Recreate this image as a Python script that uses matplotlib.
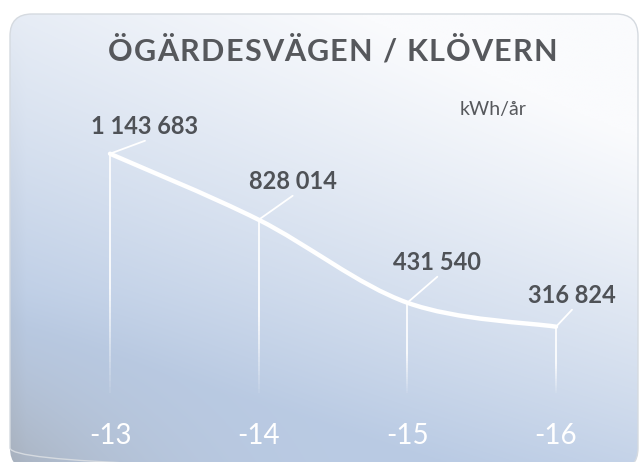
import numpy as np
import matplotlib
matplotlib.use("Agg")
import matplotlib.pyplot as plt
from matplotlib.patches import FancyBboxPatch
from matplotlib.path import Path
from matplotlib.patches import PathPatch
from matplotlib.collections import LineCollection

# ---- data ----
categories = ["-13", "-14", "-15", "-16"]
values = [1143683, 828014, 431540, 316824]
value_labels = ["1 143 683", "828 014", "431 540", "316 824"]
title = "ÖGÄRDESVÄGEN / KLÖVERN"
unit = "kWh/år"

# label leader offsets (pixels) - style only
leader_off = [(35, 13), (34, 24), (30, 26), (16, 17)]

W, H = 643, 462
fig = plt.figure(figsize=(W / 100, H / 100), dpi=100)
fig.patch.set_facecolor("white")

# ---- background panel ----
bg = fig.add_axes([0, 0, 1, 1])
bg.set_xlim(0, W)
bg.set_ylim(H, 0)
bg.axis("off")

ny, nx = 240, 320
yy, xx = np.mgrid[0:1:ny * 1j, 0:1:nx * 1j]
light = np.array([250, 251, 253]) / 255
blue = np.array([186, 203, 228]) / 255
gray = np.array([165, 173, 184]) / 255
t = yy[..., None]
s = xx[..., None]
f = np.clip(-0.25 + 0.85 * t + 0.25 * t ** 2 + 0.56 * (1 - s), 0, 1)
img = light * (1 - f) + blue * f
g = np.clip((1 - s) ** 5 * np.clip((t - 0.6) / 0.4, 0, 1) ** 1.5, 0, 1) * 0.85
img = img * (1 - g) + gray * g
edge = np.clip(1 - s / 0.025, 0, 1) * 0.3 * t
img = img * (1 - edge) + gray * edge
im = bg.imshow(img, extent=(10, 640, 470, 14), aspect="auto", zorder=0,
               interpolation="bilinear")
panel = FancyBboxPatch((10, 14), 628, 456,
                       boxstyle="round,pad=0,rounding_size=22",
                       facecolor="none", edgecolor="#d5dae0", lw=1.0, zorder=1)
bg.add_patch(panel)
im.set_clip_path(panel)

# ---- main axes ----
ax = fig.add_axes([0, 0, 1, 1])
ax.patch.set_alpha(0)
x = np.arange(len(values))
px_per_i = 148.67
x0 = 110
ax.set_xlim(-x0 / px_per_i, (W - x0) / px_per_i)
k = 2.092e-4
base_px = 393
ax.set_ylim((base_px - H) / k, base_px / k)
ax.axis("off")

# smooth curve (Catmull-Rom style bezier through the data points)
pts = np.column_stack([x, values]).astype(float)
verts = [tuple(pts[0])]
codes = [Path.MOVETO]
n = len(pts)
for i in range(n - 1):
    p0 = pts[max(i - 1, 0)]
    p1 = pts[i]
    p2 = pts[i + 1]
    p3 = pts[min(i + 2, n - 1)]
    c1 = p1 + (p2 - p0) / 6
    c2 = p2 - (p3 - p1) / 6
    verts += [tuple(c1), tuple(c2), tuple(p2)]
    codes += [Path.CURVE4] * 3
ax.add_patch(PathPatch(Path(verts, codes), facecolor="none",
                       edgecolor="white", lw=3.2, capstyle="round", zorder=4))

# vertical drop lines, fading toward the bottom
for xi, v in zip(x, values):
    ys = np.linspace(v, 0, 40)
    segs = [[(xi, ys[j]), (xi, ys[j + 1])] for j in range(len(ys) - 1)]
    frac = np.linspace(0, 1, len(segs))
    alphas = np.clip(0.95 - np.clip(frac - 0.55, 0, 1) * 1.9, 0.08, 0.95)
    cols = [(1, 1, 1, a) for a in alphas]
    ax.add_collection(LineCollection(segs, colors=cols, lw=1.3, zorder=3))

# leader lines and value labels
for xi, v, lab, (dx, dy) in zip(x, values, value_labels, leader_off):
    ax.annotate("", xy=(xi, v), xytext=(dx, dy), textcoords="offset pixels",
                arrowprops=dict(arrowstyle="-", color="white", lw=1.3,
                                shrinkA=0, shrinkB=0), zorder=5)
    ax.annotate(lab, xy=(xi, v), xytext=(dx, dy + 3), textcoords="offset pixels",
                ha="center", va="bottom", fontsize=17, fontweight="bold",
                color="#4f5257", family="Lato", zorder=6)

# category labels
for xi, c in zip(x, categories):
    ax.text(xi, (base_px - 436) / k, c, ha="center", va="center",
            fontsize=20, fontweight="normal", color="white", family="Lato",
            zorder=6)

# title with letter spacing
renderer = fig.canvas.get_renderer()
tprops = dict(fontsize=22, fontweight="bold", color="#56585c",
              family="Lato")


def _w(sv):
    tt = fig.text(0, 0, sv, **tprops)
    wv = tt.get_window_extent(renderer).width
    tt.remove()
    return wv


ref = _w("HH")
adv = [_w("H" + ch + "H") - ref for ch in title]
target_left, target_right = 108, 557
extra = (target_right - target_left - sum(adv)) / (len(title) - 1)
cx = target_left
for ch, a in zip(title, adv):
    fig.text(cx / W, 1 - 52 / H, ch, ha="left", va="center", **tprops)
    cx += a + extra

fig.text(493 / W, 1 - 110 / H, unit, ha="center", va="center",
         fontsize=14, color="#56585c", family="Lato")

fig.savefig("out.png", dpi=100)
